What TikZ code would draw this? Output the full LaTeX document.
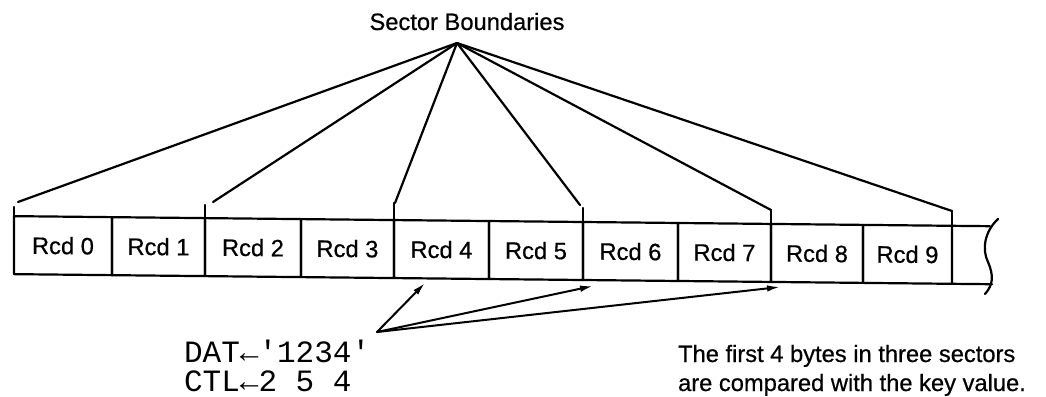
\documentclass[tikz,border=0pt]{standalone}
\usepackage{fontspec}
\setmainfont{Liberation Sans}
\newfontfamily\heavy[FakeBold=0.6]{Liberation Sans}
\newfontfamily\dotfont{Liberation Mono}
\usetikzlibrary{arrows.meta}
\begin{document}
\begin{tikzpicture}[x=1pt,y=-1pt,
  line width=2.2pt, line cap=round, line join=round,
  lbl/.style={font=\heavy\fontsize{23.7}{28}\selectfont, inner sep=0pt},
  cell/.style={draw, rectangle, minimum height=58pt, inner sep=0pt, outer sep=0pt,
               font=\heavy\fontsize{23.7}{28}\selectfont},
  mono/.style={font=\dotfont\fontsize{31}{31}\selectfont, inner sep=0pt},
  ptr/.style={-{Latex[length=13pt,width=6.5pt]}, line width=2pt}]
\useasboundingbox (0,0) rectangle (1046,396);

% record strip (slightly tilted as in the reference)
\begin{scope}[yslant=-0.0103, transform shape]
  \node[cell, minimum width=98pt] (r0) at (63,245)    {Rcd 0};
  \node[cell, minimum width=93pt] (r1) at (158.5,245) {Rcd 1};
  \node[cell, minimum width=96pt] (r2) at (253,245)   {Rcd 2};
  \node[cell, minimum width=93pt] (r3) at (347.5,245) {Rcd 3};
  \node[cell, minimum width=95pt] (r4) at (441.5,245) {Rcd 4};
  \node[cell, minimum width=94pt] (r5) at (536,245)   {Rcd 5};
  \node[cell, minimum width=95pt] (r6) at (630.5,245) {Rcd 6};
  \node[cell, minimum width=93pt] (r7) at (724.5,245) {Rcd 7};
  \node[cell, minimum width=92pt] (r8) at (817,245)   {Rcd 8};
  \node[cell, minimum width=89pt] (r9) at (907.5,245) {Rcd 9};
  \coordinate (tailtop) at (990,216);
  \coordinate (tailbot) at (992,274);
\end{scope}
\draw (r9.north east) -- (tailtop);
\draw (r9.south east) -- (tailbot);
\coordinate (wtop) at (998,219);
\coordinate (wmid) at (988,262);
\coordinate (wbot) at (985,294);
\draw (wtop) .. controls (984,232) and (982,250) .. (wmid)
             .. controls (994,276) and (993,285) .. (wbot);

% sector boundaries
\node[lbl, anchor=base] (sb) at (467,30) {Sector Boundaries};
\coordinate (apex) at (457,43);
\coordinate (t0) at (14,207);  \coordinate (e0) at (18,202);
\coordinate (t1) at (205,205); \coordinate (e1) at (213,202);
\coordinate (t2) at (394,203); \coordinate (e2) at (395,203);
\coordinate (t3) at (583,208); \coordinate (e3) at (580,205);
\coordinate (t4) at (771,210); \coordinate (e4) at (771,210);
\coordinate (t5) at (952,211); \coordinate (e5) at (952,211);
\draw (t0) -- (r0.north west);
\draw (t1) -- (r2.north west);
\draw (t2) -- (r4.north west);
\draw (t3) -- (r6.north west);
\draw (t4) -- (r8.north west);
\draw (t5) -- (r9.north east);
\foreach \i in {0,...,5} { \draw (apex) -- (e\i); }

% key pointers
\coordinate (src) at (377,332);
\coordinate (k1) at (425,283);
\coordinate (k2) at (593,286);
\coordinate (k3) at (780,287);
\draw[ptr] (src) -- (k1);
\draw[ptr] (src) -- (k2);
\draw[ptr] (src) -- (k3);

\node[mono, anchor=base west] (dat) at (183,362) {DAT←'1234'};
\node[mono, anchor=base west] (ctl) at (183,391) {CTL←2 5 4};

\node[lbl, anchor=base west] (n1) at (677,362) {The first 4 bytes in three sectors};
\node[lbl, anchor=base west] (n2) at (677,391) {are compared with the key value.};
\end{tikzpicture}
\end{document}
